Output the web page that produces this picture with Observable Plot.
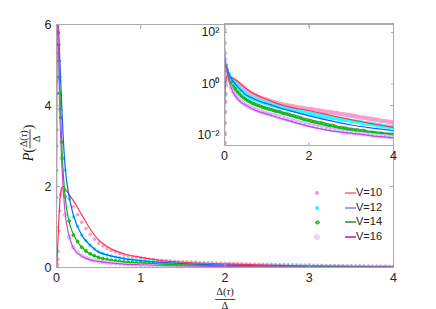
<!DOCTYPE html>
<html><head><meta charset="utf-8">
<script src="https://cdn.jsdelivr.net/npm/d3@7"></script>
<script src="https://cdn.jsdelivr.net/npm/@observablehq/plot@0.6"></script>
<style>
body{margin:0;background:#fff;}
#wrap{position:relative;width:436px;height:309px;font-family:"Liberation Sans",Arial,sans-serif;color:#222;overflow:hidden;}
#wrap svg{position:absolute;}
.lab{position:absolute;white-space:nowrap;font-family:"Liberation Serif","DejaVu Serif",serif;color:#222;}
.frac{display:inline-flex;flex-direction:column;align-items:center;vertical-align:middle;line-height:1;}
.frac .num{border-bottom:1px solid #444;padding:0 1px 1px 1px;}
.frac .den{padding-top:1px;}
.leg{position:absolute;font-size:11px;line-height:1;}
</style></head><body><div id="wrap"></div>
<script>
// ---------- data ----------
const seriesNames = ["V=10", "V=12", "V=14", "V=16"];

// fitted curves (shared x grid)
const lineX   = [0, 0.005, 0.01, 0.02, 0.03, 0.05, 0.075, 0.1, 0.15, 0.2, 0.3, 0.4, 0.5, 0.6, 0.8, 1.0, 1.25, 1.5, 2.0, 2.5, 3.0, 3.5, 4.0];
const lineV10 = [0.004, 0.08, 0.3, 0.8, 1.3, 1.85, 2.0, 1.95, 1.8, 1.65, 1.3, 0.95, 0.68, 0.52, 0.34, 0.25, 0.17, 0.13, 0.09, 0.06, 0.04, 0.028, 0.02];
const lineV12 = [1.5, 5, 7, 6.2, 5.6, 4.6, 3.4, 2.55, 1.75, 1.3, 0.8, 0.55, 0.38, 0.31, 0.22, 0.17, 0.125, 0.095, 0.057, 0.037, 0.025, 0.019, 0.015];
const lineV14 = [6.5, 6.3, 6.2, 5.8, 5.0, 3.7, 2.5, 1.8, 1.12, 0.82, 0.5, 0.33, 0.25, 0.2, 0.14, 0.115, 0.085, 0.063, 0.035, 0.023, 0.016, 0.013, 0.011];
const lineV16 = [200, 30, 15, 6.5, 4.8, 3.2, 2.1, 1.4, 0.78, 0.48, 0.28, 0.19, 0.15, 0.12, 0.085, 0.068, 0.05, 0.038, 0.022, 0.015, 0.012, 0.0095, 0.008];

// simulation points close to zero
const nearV10X = [0.002, 0.005, 0.008, 0.012, 0.016, 0.02, 0.03, 0.04, 0.05, 0.065];
const nearV10Y = [0.005, 0.012, 0.03, 0.08, 0.2, 0.4, 0.9, 1.4, 1.8, 1.95];
const nearV12X = [0.002, 0.002, 0.003, 0.003, 0.004, 0.004, 0.005, 0.005, 0.006, 0.007];
const nearV12Y = [0.37, 1.0, 1.73, 2.4, 3.0, 3.4, 4.3, 4.7, 5.3, 5.8];
const nearV14X = [0.01, 0.015, 0.02, 0.025, 0.03, 0.035, 0.04, 0.05, 0.06, 0.07];
const nearV14Y = [6.4, 6.1, 5.8, 5.5, 5.1, 4.7, 4.3, 3.7, 3.1, 2.7];
const nearV16X = [0.002, 0.005, 0.01, 0.015, 0.02, 0.03, 0.04, 0.06, 0.08];
const nearV16Y = [120, 40, 16, 9, 6.3, 4.6, 3.9, 2.7, 1.9];

// simulation points on regular bins
const binX = [0.1, 0.15, 0.2, 0.25, 0.3, 0.35, 0.4, 0.45, 0.5, 0.6, 0.7, 0.8, 0.9, 1.0, 1.1, 1.2, 1.3, 1.4, 1.5, 1.6, 1.7, 1.8, 1.9, 2.0, 2.1, 2.2, 2.3, 2.4, 2.5, 2.6, 2.7, 2.8, 2.9, 3.0, 3.1, 3.2, 3.3, 3.4, 3.5, 3.6, 3.7, 3.8, 3.9, 4.0];
const dotV10 = [1.9, 1.7, 1.5, 1.3, 1.12, 0.96, 0.82, 0.7, 0.6, 0.47, 0.38, 0.31, 0.27, 0.24, 0.21, 0.185, 0.17, 0.155, 0.145, 0.135, 0.125, 0.118, 0.11, 0.105, 0.1, 0.093, 0.088, 0.082, 0.078, 0.072, 0.07, 0.065, 0.061, 0.058, 0.054, 0.05, 0.048, 0.045, 0.042, 0.04, 0.037, 0.035, 0.033, 0.03];
const dotV12 = [2.4, 1.7, 1.25, 1.02, 0.8, 0.66, 0.55, 0.46, 0.39, 0.31, 0.26, 0.225, 0.195, 0.175, 0.155, 0.14, 0.125, 0.115, 0.105, 0.097, 0.09, 0.082, 0.076, 0.07, 0.065, 0.061, 0.057, 0.053, 0.05, 0.047, 0.044, 0.041, 0.039, 0.036, 0.034, 0.032, 0.03, 0.028, 0.027, 0.025, 0.024, 0.022, 0.021, 0.02];
const dotV14 = [1.75, 1.15, 0.8, 0.64, 0.5, 0.41, 0.34, 0.29, 0.25, 0.2, 0.165, 0.145, 0.125, 0.11, 0.1, 0.088, 0.082, 0.07, 0.066, 0.058, 0.052, 0.047, 0.041, 0.038, 0.034, 0.031, 0.03, 0.026, 0.024, 0.023, 0.02, 0.019, 0.018, 0.017, 0.016, 0.015, 0.015, 0.013, 0.013, 0.012, 0.012, 0.011, 0.011, 0.011];
const dotV16 = [1.3, 0.75, 0.5, 0.37, 0.29, 0.24, 0.2, 0.17, 0.15, 0.125, 0.105, 0.09, 0.08, 0.07, 0.063, 0.057, 0.052, 0.046, 0.04, 0.037, 0.033, 0.03, 0.027, 0.025, 0.023, 0.021, 0.02, 0.018, 0.017, 0.016, 0.015, 0.014, 0.013, 0.013, 0.012, 0.012, 0.011, 0.011, 0.01, 0.0098, 0.0095, 0.009, 0.0088, 0.0085];

// simulation points on the in-between bins
const binX2 = [0.55, 0.65, 0.75, 0.85, 0.95, 1.05, 1.15, 1.25, 1.35, 1.45, 1.55, 1.65, 1.75, 1.85, 1.95, 2.05, 2.15, 2.25, 2.35, 2.45, 2.55, 2.65, 2.75, 2.85, 2.95, 3.05, 3.15, 3.25, 3.35, 3.45, 3.55, 3.65, 3.75, 3.85, 3.95];
const dot2V10 = [0.53, 0.42, 0.35, 0.29, 0.26, 0.225, 0.2, 0.18, 0.165, 0.15, 0.142, 0.132, 0.12, 0.116, 0.108, 0.104, 0.096, 0.092, 0.085, 0.08, 0.076, 0.073, 0.067, 0.064, 0.06, 0.056, 0.053, 0.049, 0.047, 0.044, 0.041, 0.039, 0.036, 0.034, 0.032];
const dot2V12 = [0.35, 0.285, 0.24, 0.21, 0.185, 0.165, 0.148, 0.133, 0.12, 0.11, 0.1, 0.094, 0.086, 0.079, 0.073, 0.068, 0.063, 0.059, 0.055, 0.052, 0.048, 0.046, 0.043, 0.04, 0.038, 0.035, 0.033, 0.031, 0.029, 0.028, 0.026, 0.025, 0.023, 0.022, 0.021];
const dot2V14 = [0.22, 0.18, 0.155, 0.135, 0.118, 0.104, 0.094, 0.086, 0.076, 0.069, 0.061, 0.056, 0.05, 0.044, 0.04, 0.036, 0.033, 0.03, 0.028, 0.025, 0.024, 0.021, 0.02, 0.019, 0.017, 0.0165, 0.016, 0.015, 0.014, 0.013, 0.0125, 0.012, 0.0115, 0.011, 0.0108];
const dot2V16 = [0.135, 0.115, 0.097, 0.085, 0.075, 0.066, 0.06, 0.054, 0.049, 0.043, 0.039, 0.035, 0.031, 0.029, 0.026, 0.024, 0.022, 0.0205, 0.019, 0.0175, 0.0165, 0.0155, 0.0145, 0.0135, 0.013, 0.0125, 0.012, 0.0115, 0.011, 0.0105, 0.01, 0.0097, 0.0093, 0.009, 0.0087];

// axes ticks
const mainXTicks = [0, 1, 2, 3, 4];
const mainYTicks = [0, 2, 4, 6];
const insetXTicks = [0, 2, 4];
const insetYTicks = [0.01, 1, 100];
const insetYTickLabels = ["10\u207B\u00B2", "10\u2070", "10\u00B2"];

// ---------- styles ----------
const lineColors = ["#ff3355", "#1060ff", "#00c000", "#c845e0"];
const legendLineColors = ["#ff8c8c", "#9c9cff", "#58b058", "#e040e0"];
const dotStyles = [
  {fill: "#ff9ccc", stroke: "none", r: 1.8},
  {fill: "#22ffff", stroke: "none", r: 1.8},
  {fill: "#44e044", stroke: "#0a7a0a", strokeWidth: 0.6, r: 1.5},
  {fill: "#eadcff", stroke: "#c9a6ff", strokeWidth: 0.8, r: 1.9}
];

const lineYs = [lineV10, lineV12, lineV14, lineV16];
const nearXs = [nearV10X, nearV12X, nearV14X, nearV16X];
const nearYs = [nearV10Y, nearV12Y, nearV14Y, nearV16Y];
const dotYs = [dotV10, dotV12, dotV14, dotV16];
const dot2Ys = [dot2V10, dot2V12, dot2V14, dot2V16];

const lines = seriesNames.map((s, i) => lineX.map((x, j) => ({s, x, y: lineYs[i][j]})));
const dots = seriesNames.map((s, i) => [
  ...nearXs[i].map((x, j) => ({s, x, y: nearYs[i][j]})),
  ...binX.map((x, j) => ({s, x, y: dotYs[i][j]})),
  ...binX2.map((x, j) => ({s, x, y: dot2Ys[i][j]}))
]);

function seriesMarks(rScale) {
  const m = [];
  seriesNames.forEach((s, i) => {
    const st = dotStyles[i];
    m.push(Plot.dot(dots[i], {x: "x", y: "y", ...st, r: st.r * (i < 2 ? rScale : 1), clip: true}));
  });
  seriesNames.forEach((s, i) => {
    m.push(Plot.line(lines[i], {x: "x", y: "y", stroke: lineColors[i], strokeWidth: 1.2, curve: "monotone-x", clip: true}));
  });
  return m;
}

const font = "12px 'Liberation Sans', Arial, sans-serif";
const noLab = () => "";
const intLab = d => String(d);

const main = Plot.plot({
  width: 436, height: 309,
  marginLeft: 56, marginRight: 43, marginTop: 24, marginBottom: 42,
  style: {font, background: "transparent", color: "#222"},
  x: {domain: [0, 4]},
  y: {domain: [0, 6]},
  marks: [
    ...seriesMarks(1),
    Plot.frame({stroke: "#aaa"}),
    Plot.axisX({ticks: mainXTicks, tickFormat: intLab, tickSize: 0, tickPadding: 6, label: null, fontSize: 12.5}),
    Plot.axisY({ticks: mainYTicks, tickFormat: intLab, tickSize: 0, tickPadding: 5, label: null, fontSize: 12.5}),
    Plot.axisX({ticks: mainXTicks, tickSize: 4, dy: -4, tickFormat: noLab, label: null, stroke: "#aaa"}),
    Plot.axisX({anchor: "top", ticks: mainXTicks, tickSize: 4, dy: 4, tickFormat: noLab, label: null, stroke: "#aaa"}),
    Plot.axisY({ticks: mainYTicks, tickSize: 4, dx: 4, tickFormat: noLab, label: null, stroke: "#aaa"}),
    Plot.axisY({anchor: "right", ticks: mainYTicks, tickSize: 4, dx: -4, tickFormat: noLab, label: null, stroke: "#aaa"})
  ]
});
main.style.left = "0px"; main.style.top = "0px";

const inset = Plot.plot({
  width: 252, height: 170,
  marginLeft: 40, marginRight: 43, marginTop: 23, marginBottom: 25,
  style: {font, background: "transparent", color: "#222"},
  x: {domain: [0, 4]},
  y: {type: "log", domain: [Math.pow(10, -2.4), Math.pow(10, 2.35)]},
  marks: [
    ...seriesMarks(1.25),
    Plot.frame({stroke: "#aaa"}),
    Plot.axisX({ticks: insetXTicks, tickFormat: intLab, tickSize: 0, tickPadding: 6, label: null, fontSize: 12.5}),
    Plot.axisY({ticks: insetYTicks, tickSize: 0, tickPadding: 5, label: null, fontSize: 12.5,
      tickFormat: d => insetYTickLabels[insetYTicks.indexOf(d)]}),
    Plot.axisX({ticks: insetXTicks, tickSize: 3, dy: -3, tickFormat: noLab, label: null, stroke: "#aaa"}),
    Plot.axisX({anchor: "top", ticks: insetXTicks, tickSize: 3, dy: 3, tickFormat: noLab, label: null, stroke: "#aaa"}),
    Plot.axisY({ticks: insetYTicks, tickSize: 3, dx: 3, tickFormat: noLab, label: null, stroke: "#aaa"}),
    Plot.axisY({anchor: "right", ticks: insetYTicks, tickSize: 3, dx: -3, tickFormat: noLab, label: null, stroke: "#aaa"})
  ]
});
inset.style.left = "184px"; inset.style.top = "0px";

const wrap = document.getElementById("wrap");
wrap.appendChild(main);
wrap.appendChild(inset);

// axis titles
const ylab = document.createElement("div");
ylab.className = "lab";
ylab.style.cssText = "left:30px;top:143px;transform:translate(-50%,-50%) rotate(-90deg);font-size:14px;";
ylab.innerHTML = '<i>P</i>(<span class="frac" style="font-size:10px"><span class="num">\u0394(<i>\u03C4</i>)</span><span class="den">\u0394</span></span>)';
wrap.appendChild(ylab);

const xlab = document.createElement("div");
xlab.className = "lab";
xlab.style.cssText = "left:225px;top:287px;transform:translateX(-50%);font-size:10.5px;";
xlab.innerHTML = '<span class="frac"><span class="num">\u0394(<i>\u03C4</i>)</span><span class="den">\u0394</span></span>';
wrap.appendChild(xlab);

// legend
const legY = [193, 208, 222, 237];
seriesNames.forEach((s, i) => {
  const st = dotStyles[i];
  const d = document.createElement("div");
  d.className = "leg";
  d.style.cssText = `left:${317 - st.r}px;top:${legY[i] - st.r}px;width:${2 * st.r}px;height:${2 * st.r}px;border-radius:50%;background:${st.fill};` + (st.stroke !== "none" ? `box-shadow:0 0 0 0.6px ${st.stroke};` : "");
  wrap.appendChild(d);
  const l = document.createElement("div");
  l.className = "leg";
  const h = i === 1 ? 2 : 1.3;
  l.style.cssText = `left:345px;top:${legY[i] - h / 2}px;width:11px;height:${h}px;background:${legendLineColors[i]};`;
  wrap.appendChild(l);
  const t = document.createElement("div");
  t.className = "leg";
  t.style.cssText = `left:356px;top:${legY[i] - 6}px;`;
  t.textContent = s;
  wrap.appendChild(t);
});
</script></body></html>
